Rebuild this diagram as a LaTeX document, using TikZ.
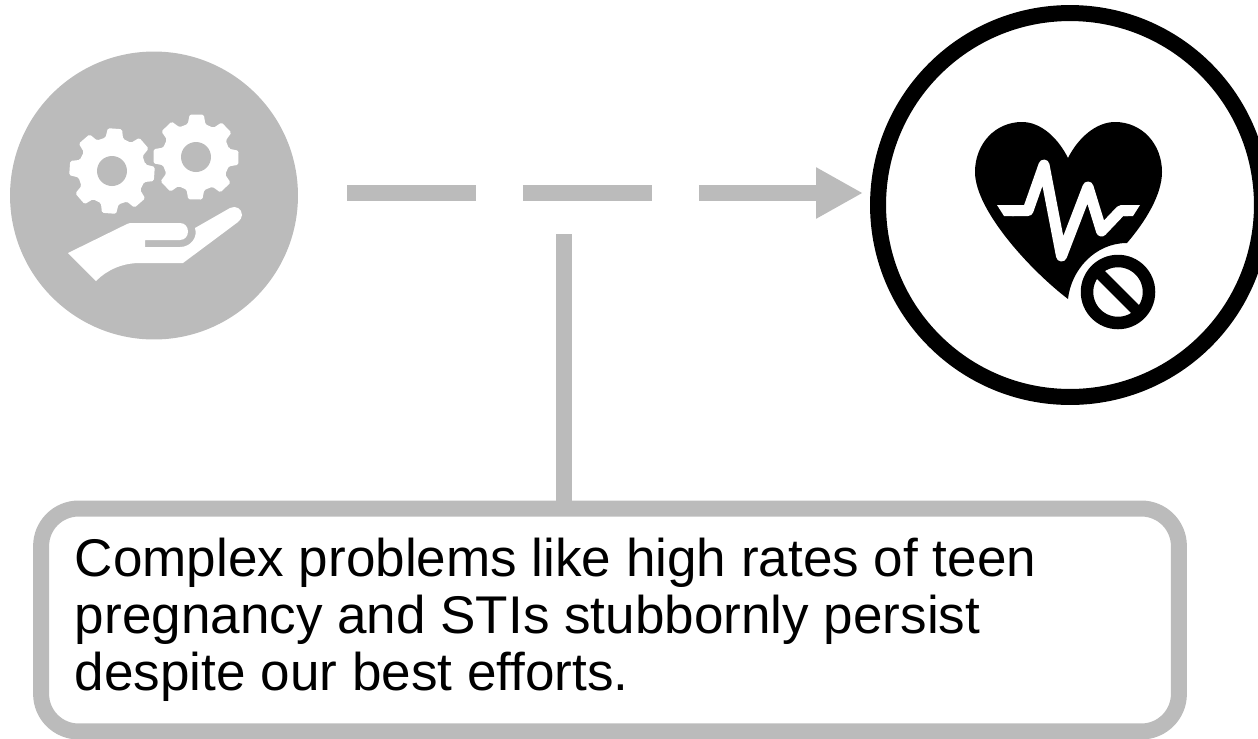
\documentclass[tikz,border=0pt]{standalone}
\usepackage{fontspec}
\setmainfont{Liberation Sans}
\usepackage{xcolor}
\usetikzlibrary{arrows.meta,positioning}
\definecolor{softGray}{HTML}{BBBBBB}
\tikzset{
  flowline/.style={draw=softGray,line width=.32cm},
  gearshape/.style={fill=white,rounded corners=.03cm},
}
\newcommand{\gearicon}[3]{% centre x, centre y, rotation
  \fill[gearshape,shift={(#1,#2)},rotate=#3] (-15:34)
    \foreach \a in {0,45,...,315} {
      -- ({\a-15}:34) -- ({\a-9.5}:43) -- ({\a+9.5}:43) -- ({\a+15}:34)
    } -- cycle;
  \fill[softGray] (#1,#2) circle[radius=.3cm];
}
\begin{document}
\begin{tikzpicture}[x=.02cm,y=-.02cm,font=\fontsize{30.2pt}{32.3pt}\selectfont,>=Stealth]
\useasboundingbox (0,0) rectangle (1258,738);
% left disc : gears over a hand
\node[circle,fill=softGray,minimum size=5.76cm,inner sep=0pt] (problem) at (154,195.5) {};
\gearicon{112}{171}{-4}
\gearicon{196}{157}{-1}
\fill[white] (68,253) -- (123,226) .. controls (126,224.5) and (128,223) .. (132,223)
  -- (180,223) .. controls (185,223) and (188,227) .. (188,231.5)
  .. controls (188,236) and (185,240) .. (180,240) -- (145,240) -- (145,247) -- (180,247)
  .. controls (191,247) and (198,237) .. (195,228) -- (230,208)
  .. controls (236,205) and (242,209) .. (242,215) .. controls (242,218) and (240,220) .. (238,222)
  -- (183,263) -- (140,263) .. controls (122,263) and (107,270) .. (96,281) -- cycle;
% right disc : heart with pulse and ban sign
\node[circle,draw=black,line width=.32cm,minimum size=7.68cm,inner sep=0pt] (outcome) at (1070,205) {};
\fill[black] (1068,158) .. controls (1058,138) and (1041,122) .. (1022,122)
  .. controls (995,122) and (975,144) .. (975,172)
  .. controls (975,210) and (1030,270) .. (1068,299)
  .. controls (1071,270) and (1095,243) .. (1127,243)
  .. controls (1145,222) and (1162,195) .. (1162,172)
  .. controls (1162,144) and (1142,122) .. (1115,122)
  .. controls (1096,122) and (1078,138) .. (1068,158) -- cycle;
\draw[white,line width=.22cm,line join=round,line cap=round]
  (1012,210.5) -- (1028,210.5) -- (1044,165) -- (1061.5,256) -- (1088,187) -- (1101.5,231) -- (1121,210.5) -- (1128,210.5);
\fill[white] (997,205) -- (1004,216) -- (1014,216) -- (1014,205) -- cycle;
\fill[white] (1140,205) -- (1133,216) -- (1124,216) -- (1124,205) -- cycle;
\draw[black,line width=.25cm] (1118,292) circle[radius=31];
\draw[black,line width=.22cm] (1096,270) -- (1140,314);
% dashed arrow and its callout
\coordinate (arrowstart) at (347,193);
\coordinate (arrowend) at (863,193);
\draw[flowline,dash pattern=on 2.58cm off .94cm,-{Triangle[length=.94cm,width=.96cm]}] (arrowstart) -- (arrowend);
\node[draw=softGray,line width=.32cm,rounded corners=.75cm,minimum width=22.76cm,minimum height=4.46cm,
  inner sep=0pt] (textbox) at (610,620) {};
\coordinate (calloutstart) at (564,234);
\draw[flowline] (calloutstart) -- (calloutstart |- textbox.north);
\node[anchor=north west,align=left,inner sep=0pt] (boxtext) at (74.5,538) {Complex problems like high rates of teen\\pregnancy and STIs stubbornly persist\\despite our best efforts.};
\end{tikzpicture}
\end{document}
